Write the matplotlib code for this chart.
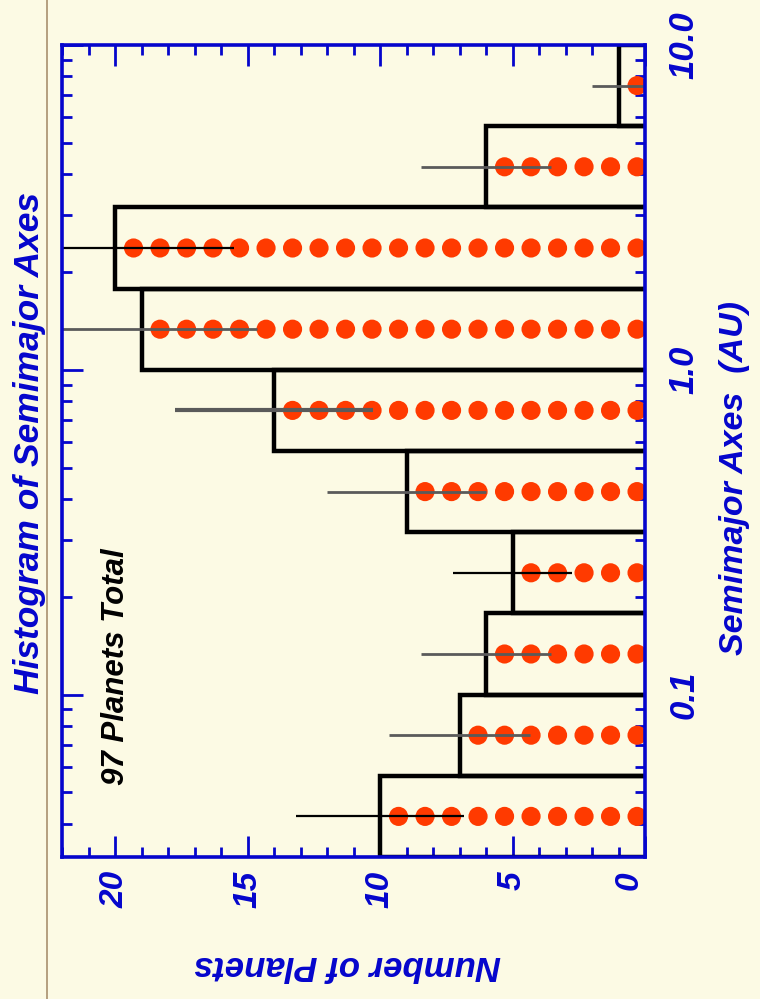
import numpy as np
import matplotlib
matplotlib.use("Agg")
import matplotlib.pyplot as plt
from matplotlib.ticker import FixedLocator, NullFormatter, LogLocator

# ---- data ----
log_edges = [-1.5, -1.25, -1.0, -0.75, -0.5, -0.25, 0.0, 0.25, 0.5, 0.75, 1.0]
counts = [10, 7, 6, 5, 9, 14, 19, 20, 6, 1]
count_ticks = [0, 5, 10, 15, 20]
count_tick_labels = ["0", "5", "10", "15", "20"]
axis_ticks = [0.1, 1.0, 10.0]
axis_tick_labels = ["0.1", "1.0", "10.0"]
total_label = "97 Planets Total"

# ---- style ----
BG = "#FCFAE4"
BLUE = "#0505CC"
DOT = "#FF3A00"
err_colors = ["black", "#5a5a5a", "#5a5a5a", "black", "#5a5a5a",
              "#5a5a5a", "#5a5a5a", "black", "#5a5a5a", "#5a5a5a"]
err_widths = [1.6, 2.0, 2.0, 1.6, 2.0, 3.0, 2.0, 1.6, 2.0, 2.0]
FONT = "Liberation Sans"

fig = plt.figure(figsize=(7.6, 9.99), dpi=100, facecolor=BG)
ax = fig.add_axes([62 / 760, 1 - 857 / 999, (645 - 62) / 760, (857 - 45) / 999])
ax.set_facecolor(BG)
ax.set_yscale("log")
ax.set_ylim(10 ** log_edges[0], 10 ** log_edges[-1])
ax.set_xlim(22, 0)

edges = [10 ** e for e in log_edges]
for i, n in enumerate(counts):
    lo, hi = edges[i], edges[i + 1]
    # bar outline
    ax.plot([0, n, n, 0], [lo, lo, hi, hi], color="black", lw=3.2,
            solid_joinstyle="miter", zorder=3, clip_on=True)
    yc = 10 ** ((log_edges[i] + log_edges[i + 1]) / 2)
    xs = np.arange(n) + 0.3
    ax.scatter(xs, [yc] * n, s=190, color=DOT, edgecolors="none", zorder=4)
    e = np.sqrt(n)
    ax.plot([n - e, n + e], [yc, yc], color=err_colors[i], lw=err_widths[i],
            zorder=5, solid_capstyle="butt")

# spines
for sp in ax.spines.values():
    sp.set_color(BLUE)
    sp.set_linewidth(2.6)
    sp.set_zorder(6)

ax.xaxis.set_major_locator(FixedLocator(count_ticks))
ax.xaxis.set_minor_locator(FixedLocator(np.arange(0, 23, 1)))
ax.set_xticklabels(count_tick_labels)
ax.yaxis.set_major_locator(FixedLocator(axis_ticks))
ax.yaxis.set_minor_locator(LogLocator(base=10, subs=np.arange(2, 10)))
ax.yaxis.set_minor_formatter(NullFormatter())
ax.set_yticklabels(axis_tick_labels)

ax.tick_params(axis="both", which="major", direction="in", length=15, width=2,
               color=BLUE, top=True, right=True, bottom=True, left=True)
ax.tick_params(axis="both", which="minor", direction="in", length=7, width=2,
               color=BLUE, top=True, right=True, bottom=True, left=True)
ax.tick_params(axis="y", which="both", labelleft=False, labelright=True, pad=16)
ax.tick_params(axis="x", which="both", pad=10)

for lab in ax.get_xticklabels():
    lab.set_rotation(90)
    lab.set_fontfamily(FONT)
    lab.set_fontweight("bold")
    lab.set_fontstyle("italic")
    lab.set_fontsize(24)
    lab.set_color(BLUE)
    lab.set_va("top")
    lab.set_ha("center")
ax.get_xticklabels()[0].set_ha("right")
for lab in ax.get_yticklabels():
    lab.set_rotation(90)
    lab.set_fontfamily(FONT)
    lab.set_fontweight("bold")
    lab.set_fontstyle("italic")
    lab.set_fontsize(25)
    lab.set_color(BLUE)
    lab.set_va("center")
    lab.set_ha("left")

fig.text(30 / 760, 1 - 443 / 999, "Histogram of Semimajor Axes", rotation=90,
         ha="center", va="center", color=BLUE, fontsize=25.5, fontweight="bold",
         fontstyle="italic", fontfamily=FONT)
fig.text(735 / 760, 1 - 478 / 999, "Semimajor Axes  (AU)", rotation=90,
         ha="center", va="center", color=BLUE, fontsize=24.5, fontweight="bold",
         fontstyle="italic", fontfamily=FONT)
fig.text(347 / 760, 1 - 965 / 999, "Number of Planets", rotation=180,
         ha="center", va="center", color=BLUE, fontsize=25, fontweight="bold",
         fontstyle="italic", fontfamily=FONT)
fig.text(116 / 760, 1 - 667 / 999, total_label, rotation=90,
         ha="center", va="center", color="black", fontsize=22.5,
         fontweight="bold", fontstyle="italic", fontfamily=FONT)

# thin tan vertical border line
fig.add_artist(plt.Line2D([47 / 760, 47 / 760], [0, 1], color="#A8906E",
                          lw=1.2, transform=fig.transFigure))

fig.savefig("out.png", dpi=100, facecolor=BG)
